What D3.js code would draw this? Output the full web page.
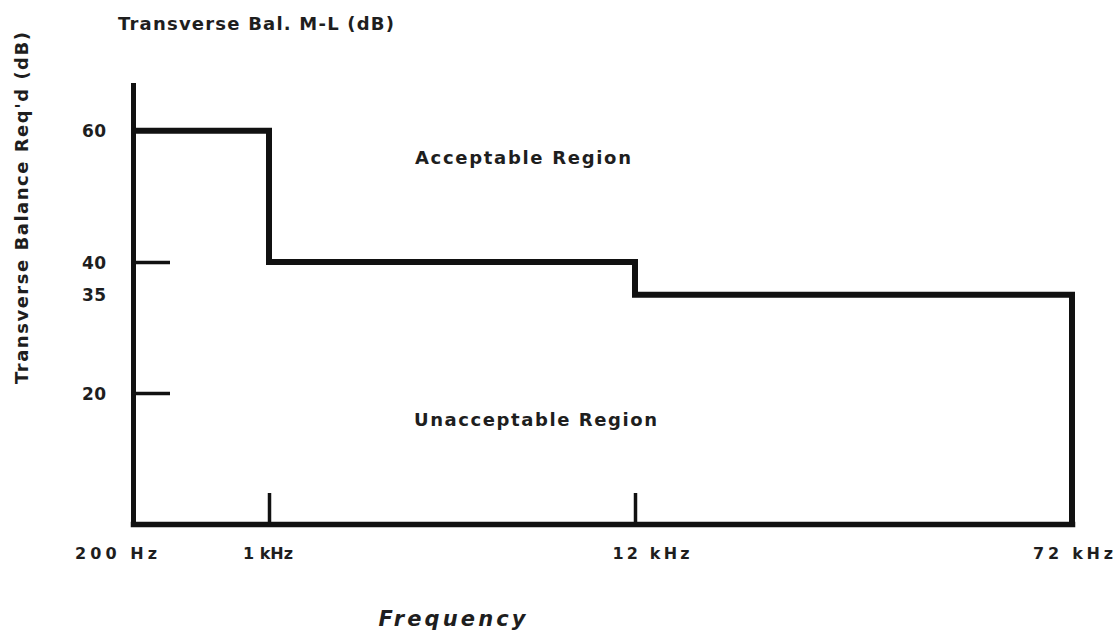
<!DOCTYPE html>
<html>
<head>
<meta charset="utf-8">
<script src="https://cdn.jsdelivr.net/npm/d3@7"></script>
<style>
  html, body { margin: 0; padding: 0; background: #fff; }
  svg { display: block; }
  text { font-family: "DejaVu Sans", "Liberation Sans", Arial, sans-serif; fill: #1e1e1e; font-weight: bold; }
</style>
</head>
<body>
<svg id="chart" width="1118" height="634"></svg>
<script>
// ---- data ----
const freqs = [200, 1000, 12000, 72000];
const freqLabels = ["200 Hz", "1 kHz", "12 kHz", "72 kHz"];
const stepFreqs = [200, 1000, 12000, 72000, 72000];
const stepLevels = [60, 40, 35, 35, 0];
const yTickValues = [60, 40, 35, 20];
const yTickMarks = [40, 20];
const xTickMarks = [1000, 12000];
const topTitle = "Transverse Bal. M-L (dB)";
const yTitle = "Transverse Balance Req'd (dB)";
const xTitle = "Frequency";
const regionLabels = ["Acceptable Region", "Unacceptable Region"];
const regionLevels = [55, 15];

// ---- layout ----
const svg = d3.select("#chart");
const x = d3.scaleLinear().domain(freqs).range([133, 269, 635, 1072]);
const y = d3.scaleLinear().domain([0, 67]).range([524, 85]);
const xLabelDx = [-17, -1, 16, 1];
const xLabelLen = [82, 50, 77, 80];

// y axis line + labels
const yAxis = svg.append("g").attr("transform", `translate(${x(200)},0)`)
  .call(d3.axisLeft(y).tickValues(yTickValues).tickSizeInner(0).tickSizeOuter(0).tickPadding(27).tickFormat(d3.format("d")));
yAxis.select(".domain").attr("stroke", "#111").attr("stroke-width", 5).attr("stroke-linecap", "square");
yAxis.selectAll("text").style("font-size", "17px").attr("dy", "0.36em").attr("fill", "#1e1e1e")
  .attr("textLength", 24).attr("lengthAdjust", "spacing");

// y tick marks (inside)
const yMarks = svg.append("g").attr("transform", `translate(${x(200)},0)`)
  .call(d3.axisLeft(y).tickValues(yTickMarks).tickSizeInner(-37).tickSizeOuter(0).tickFormat(""));
yMarks.select(".domain").remove();
yMarks.selectAll("line").attr("stroke", "#111").attr("stroke-width", 3.5);

// x axis line
const xAxis = svg.append("g").attr("transform", `translate(0,${y(0)})`)
  .call(d3.axisBottom(x).tickValues(freqs).tickSizeInner(0).tickSizeOuter(0).tickFormat(""));
xAxis.select(".domain").attr("stroke", "#111").attr("stroke-width", 5.5).attr("stroke-linecap", "square");

// x tick marks (inside)
const xMarks = svg.append("g").attr("transform", `translate(0,${y(0)})`)
  .call(d3.axisBottom(x).tickValues(xTickMarks).tickSizeInner(-31).tickSizeOuter(0).tickFormat(""));
xMarks.select(".domain").remove();
xMarks.selectAll("line").attr("stroke", "#111").attr("stroke-width", 3.5);

// x labels
svg.append("g").selectAll("text").data(freqs).join("text")
  .attr("x", (d, i) => x(d) + xLabelDx[i])
  .attr("y", 559)
  .attr("text-anchor", "middle")
  .attr("textLength", (d, i) => xLabelLen[i])
  .attr("lengthAdjust", "spacing")
  .style("font-size", "16px")
  .text((d, i) => freqLabels[i]);

// step line
const stepData = stepFreqs.map((f, i) => [f, stepLevels[i]]);
svg.append("path")
  .datum(stepData)
  .attr("fill", "none")
  .attr("stroke", "#111")
  .attr("stroke-width", 6)
  .attr("stroke-linejoin", "miter")
  .attr("d", d3.line().x(d => x(d[0])).y(d => y(d[1])).curve(d3.curveStepAfter));

// region labels
svg.append("text").attr("x", 415).attr("y", y(regionLevels[0]))
  .attr("textLength", 216).attr("lengthAdjust", "spacing")
  .style("font-size", "18px").text(regionLabels[0]);
svg.append("text").attr("x", 414).attr("y", y(regionLevels[1]))
  .attr("textLength", 243).attr("lengthAdjust", "spacing")
  .style("font-size", "18px").text(regionLabels[1]);

// titles
svg.append("text").attr("x", 118).attr("y", 30)
  .attr("textLength", 276).attr("lengthAdjust", "spacing")
  .style("font-size", "18px").text(topTitle);

svg.append("text")
  .attr("transform", "translate(28,208) rotate(-90)")
  .attr("text-anchor", "middle")
  .attr("textLength", 352).attr("lengthAdjust", "spacing")
  .style("font-size", "18px").text(yTitle);

svg.append("text").attr("x", 452).attr("y", 626)
  .attr("text-anchor", "middle")
  .attr("textLength", 147).attr("lengthAdjust", "spacing")
  .style("font-size", "21px").style("font-style", "italic").text(xTitle);
</script>
</body>
</html>
